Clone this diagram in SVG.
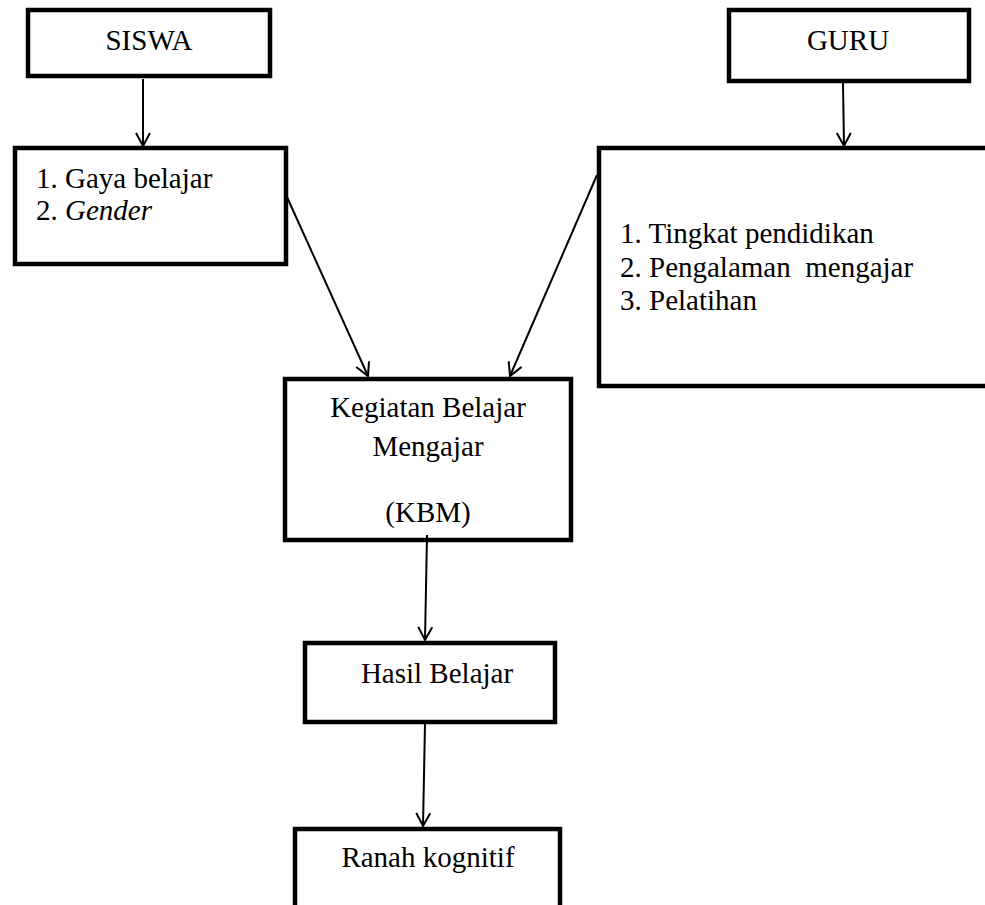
<svg xmlns="http://www.w3.org/2000/svg" width="985" height="905" viewBox="0 0 985 905">
<style>
.box{fill:#fff;stroke:#000;stroke-width:4.5}
.t{font-family:"Liberation Serif","Times New Roman",serif;font-size:29px;fill:#000}
.c{text-anchor:middle}
.ln{stroke:#000;stroke-width:2;fill:none}
</style>
<defs>
<marker id="ah" markerUnits="userSpaceOnUse" markerWidth="30" markerHeight="30" viewBox="-15 -15 30 30" refX="0" refY="0" orient="auto">
<path d="M-13,-7 L0,0 L-13,7" fill="none" stroke="#000" stroke-width="2"/>
</marker>
</defs>
<rect width="985" height="905" fill="#fff"/>
<g id="siswa">
<rect class="box" x="28" y="10" width="242" height="66"/>
<text class="t c" x="149" y="50">SISWA</text>
</g>
<g id="guru">
<rect class="box" x="729" y="10" width="240" height="71"/>
<text class="t c" x="848" y="50">GURU</text>
</g>
<g id="faktor-siswa">
<rect class="box" x="15" y="148" width="271" height="116"/>
<text class="t" x="36" y="188">1. Gaya belajar</text>
<text class="t" x="36" y="220">2. <tspan font-style="italic">Gender</tspan></text>
</g>
<g id="faktor-guru">
<rect class="box" x="599" y="148" width="420" height="238"/>
<text class="t" x="620" y="243">1. Tingkat pendidikan</text>
<text class="t" x="620" y="277" xml:space="preserve">2. Pengalaman  mengajar</text>
<text class="t" x="620" y="310">3. Pelatihan</text>
</g>
<g id="kbm">
<rect class="box" x="285" y="379" width="286" height="161"/>
<text class="t c" x="428" y="417">Kegiatan Belajar</text>
<text class="t c" x="428" y="456">Mengajar</text>
<text class="t c" x="428" y="522">(KBM)</text>
</g>
<g id="hasil">
<rect class="box" x="305" y="643" width="250" height="79"/>
<text class="t c" x="437" y="683">Hasil Belajar</text>
</g>
<g id="ranah">
<rect class="box" x="295" y="829" width="265" height="100"/>
<text class="t c" x="428" y="867">Ranah kognitif</text>
</g>
<g id="connectors">
<line class="ln" x1="143" y1="79" x2="143" y2="146" marker-end="url(#ah)"/>
<line class="ln" x1="843" y1="83" x2="844" y2="146" marker-end="url(#ah)"/>
<line class="ln" x1="287" y1="197" x2="368" y2="376" marker-end="url(#ah)"/>
<line class="ln" x1="597" y1="175" x2="510" y2="376" marker-end="url(#ah)"/>
<line class="ln" x1="427" y1="535" x2="425" y2="640" marker-end="url(#ah)"/>
<line class="ln" x1="425" y1="724" x2="423" y2="826" marker-end="url(#ah)"/>
</g>
</svg>
